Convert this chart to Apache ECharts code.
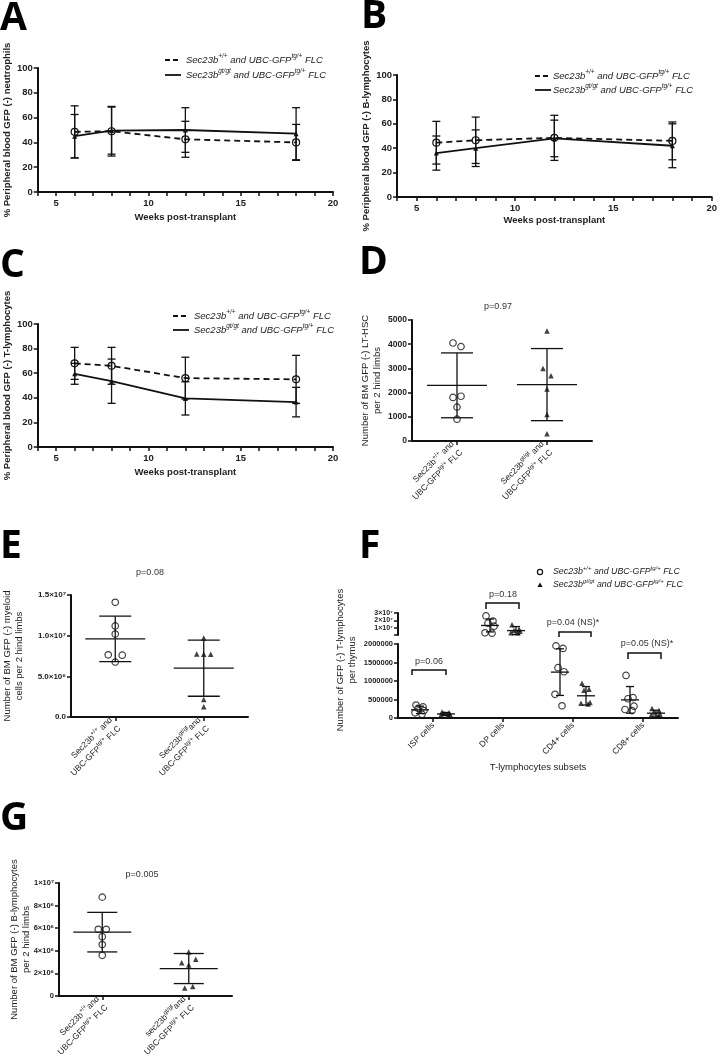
<!DOCTYPE html>
<html><head><meta charset="utf-8">
<script src="https://cdn.jsdelivr.net/npm/echarts@6/dist/echarts.min.js"></script>
<style>html,body{margin:0;padding:0;background:#fff}#c{width:720px;height:1061px}</style>
</head><body><div id="c"></div>
<script>
// ---------------- DATA ----------------
const weeks = [6, 8, 12, 18];
const weekTickLabels = [5, 10, 15, 20];
// A: neutrophils
const neutWtMean = [48.5, 49, 42.5, 40];
const neutWtSd = [21, 20, 14.5, 14.5];
const neutMutMean = [45, 49.5, 50, 47];
const neutMutSd = [17.5, 19, 18, 21];
// B: B-lymphocytes
const bWtMean = [44.5, 46.5, 48.5, 46];
const bWtSd = [17.5, 19, 18.5, 15.5];
const bMutMean = [36, 40, 48, 42];
const bMutSd = [14, 15, 15, 18];
// C: T-lymphocytes
const tWtMean = [68, 66, 56, 55];
const tWtSd = [13, 15, 17, 19.5];
const tMutMean = [59.5, 53.5, 39.5, 36.5];
const tMutSd = [8.5, 18, 13.5, 12];

const groupCats = ['Sec23b+/+ and UBC-GFPtg/+ FLC', 'Sec23bgt/gt and UBC-GFPtg/+ FLC'];
// D: LT-HSC
const lthscWt = [4050, 3900, 1850, 1800, 1400, 900];
const lthscMut = [4550, 3000, 2700, 2150, 1100, 300];
const lthscMean = [2300, 2330];
const lthscSd = [1340, 1490];
// E: myeloid
const myeWt = [14.1e6, 11.2e6, 10.2e6, 7.65e6, 7.6e6, 6.75e6];
const myeMut = [9.7e6, 7.75e6, 7.7e6, 7.7e6, 2.15e6, 1.25e6];
const myeMean = [9.6e6, 6.0e6];
const myeSd = [2.8e6, 3.45e6];
// G: BM B-lymphocytes
const bcellWt = [8.75e6, 5.9e6, 5.9e6, 5.25e6, 4.55e6, 3.6e6];
const bcellMut = [3.9e6, 2.95e6, 3.25e6, 2.75e6, 0.7e6, 0.85e6];
const bcellMean = [5.65e6, 2.43e6];
const bcellSd = [1.75e6, 1.33e6];
// F: thymus T-lymphocyte subsets
const tSubsets = ['ISP cells', 'DP cells', 'CD4+ cells', 'CD8+ cells'];
const ispWt = [0.35e6, 0.3e6, 0.26e6, 0.2e6, 0.14e6, 0.1e6];
const ispMut = [0.16e6, 0.14e6, 0.12e6, 0.1e6, 0.08e6, 0.07e6];
const dpWt = [2.6e7, 1.9e7, 1.6e7, 1.2e7, 0.3e7, 0.25e7];
const dpMut = [1.4e7, 0.8e7, 0.6e7, 0.5e7, 0.3e7, 0.3e7];
const cd4Wt = [1.95e6, 1.88e6, 1.36e6, 1.25e6, 0.64e6, 0.33e6];
const cd4Mut = [0.94e6, 0.78e6, 0.75e6, 0.42e6, 0.4e6, 0.38e6];
const cd8Wt = [1.15e6, 0.55e6, 0.52e6, 0.32e6, 0.23e6, 0.2e6];
const cd8Mut = [0.26e6, 0.2e6, 0.16e6, 0.1e6, 0.07e6, 0.05e6];
const subsetWtMean = [0.22e6, 1.3e7, 1.24e6, 0.49e6];
const subsetWtSd = [0.1e6, 0.88e7, 0.63e6, 0.36e6];
const subsetMutMean = [0.11e6, 0.6e7, 0.6e6, 0.13e6];
const subsetMutSd = [0.04e6, 0.55e7, 0.25e6, 0.08e6];
const subsetP = ['p=0.06', 'p=0.18', 'p=0.04 (NS)*', 'p=0.05 (NS)*'];
const panelP = {D: 'p=0.97', E: 'p=0.08', G: 'p=0.005'};

// ---------------- LAYOUT / STYLE ----------------
const FONT = 'Liberation Sans';
const INK = '#111';
const lthscWtJit = [-4, 4, 4, -4, 0, 0], lthscMutJit = [0, -4, 4, 0, 0, 0];
const myeWtJit = [0, 0, 0, -7, 7, 0], myeMutJit = [0, -7, 0, 7, 0, 0];
const bcellWtJit = [0, -4, 4, 0, 0, 0], bcellMutJit = [0, -7, 7, 0, -4, 4];
const fJit = [-4, 3, -2, 4, -5, 2];
const fWtOff = -13, fMutOff = 13;

const richN = {fontFamily: FONT, fontSize: 8.5, color: '#222', lineHeight: 12};
const richS = {fontFamily: FONT, fontSize: 6, color: '#222', lineHeight: 5, verticalAlign: 'top'};
const catLabelsD = ['{n|Sec23b}{s|+/+}{n| and}\n{n|UBC-GFP}{s|tg/+}{n| FLC}', '{n|Sec23b}{s|gt/gt}{n| and}\n{n|UBC-GFP}{s|tg/+}{n| FLC}'];
const catLabelsE = ['{n|Sec23b}{s|+/+}{n| and}\n{n|UBC-GFP}{s|tg/+}{n| FLC}', '{n|Sec23b}{s|gt/gt}{n|and}\n{n|UBC-GFP}{s|tg/+}{n| FLC}'];
const catLabelsG = ['{n|Sec23b}{s|+/+}{n|and}\n{n|UBC-GFP}{s|tg/+}{n| FLC}', '{n|sec23b}{s|gt/gt}{n|and}\n{n|UBC-GFP}{s|tg/+}{n| FLC}'];

const lineSt = {color: INK, width: 2};
function yAxisV(gi, min, max, interval, fs, fmt, extra) {
  return Object.assign({
    type: 'value', gridIndex: gi, min, max, interval,
    axisLine: {show: true, lineStyle: lineSt},
    axisTick: {show: true, length: 4, lineStyle: {color: INK, width: 1.5}},
    axisLabel: {fontFamily: FONT, fontWeight: 'bold', fontSize: fs, color: '#222', margin: 5, formatter: fmt,
      showMinLabel: true, showMaxLabel: true, hideOverlap: false},
    splitLine: {show: false}
  }, extra || {});
}
function yName(name, gap, bold, noMove) {
  const o = {name, nameLocation: 'middle', nameGap: gap,
    nameTextStyle: {fontFamily: FONT, fontWeight: bold ? 'bold' : 'normal', fontSize: 9.5, color: '#222', lineHeight: 12}};
  if (noMove) o.nameMoveOverlap = false;
  return o;
}
function weekAxis(gi, gap) {
  return {type: 'value', gridIndex: gi, min: 4, max: 20, interval: 1,
    axisLine: {show: true, lineStyle: lineSt},
    axisTick: {show: true, length: 4, lineStyle: {color: INK, width: 1.5}},
    axisLabel: {fontFamily: FONT, fontWeight: 'bold', fontSize: 9.5, color: '#222', margin: 6,
      formatter: v => weekTickLabels.indexOf(v) >= 0 ? String(v) : ''},
    splitLine: {show: false},
    name: 'Weeks post-transplant', nameLocation: 'middle', nameGap: gap,
    nameTextStyle: {fontFamily: FONT, fontWeight: 'bold', fontSize: 9.5, color: '#222'}};
}
function catAxis(gi, labels) {
  return {type: 'category', gridIndex: gi, data: groupCats,
    axisLine: {show: true, lineStyle: lineSt},
    axisTick: {show: true, alignWithLabel: true, length: 4, lineStyle: {color: INK, width: 1.5}},
    axisLabel: {rotate: 45, margin: 6, interval: 0,
      formatter: (v, i) => labels[i], rich: {n: richN, s: richS}}};
}

// error bar renderer (optional mean line)
function statRender(meanHalf, capHalf, dx) {
  return function (params, api) {
    const x = api.value(0), m = api.value(1), s = api.value(2);
    const c = api.coord([x, m]), t = api.coord([x, m + s]), b = api.coord([x, m - s]);
    const cx = c[0] + dx;
    const st = {stroke: INK, lineWidth: 1.3, fill: null};
    const ch = [
      {type: 'line', shape: {x1: cx, y1: t[1], x2: cx, y2: b[1]}, style: st},
      {type: 'line', shape: {x1: cx - capHalf, y1: t[1], x2: cx + capHalf, y2: t[1]}, style: st},
      {type: 'line', shape: {x1: cx - capHalf, y1: b[1], x2: cx + capHalf, y2: b[1]}, style: st}
    ];
    if (meanHalf > 0) ch.push({type: 'line', shape: {x1: cx - meanHalf, y1: c[1], x2: cx + meanHalf, y2: c[1]}, style: st});
    return {type: 'group', children: ch};
  };
}
function errSeries(gi, means, sds, xs) {
  return {type: 'custom', xAxisIndex: gi, yAxisIndex: gi, renderItem: statRender(0, 4, 0),
    data: xs.map((x, i) => [x, means[i], sds[i]]), z: 2, silent: true, clip: false};
}
function lineSeries(gi, means, wt) {
  return {type: 'line', xAxisIndex: gi, yAxisIndex: gi, data: weeks.map((w, i) => [w, means[i]]),
    symbol: wt ? 'circle' : 'triangle', symbolSize: wt ? 7 : 5,
    itemStyle: wt ? {color: 'rgba(255,255,255,0)', borderColor: INK, borderWidth: 1.2} : {color: INK},
    lineStyle: {color: INK, width: 1.8, type: wt ? [6, 4] : 'solid'}, z: 3, silent: true, animation: false};
}
const hollow = {color: 'rgba(255,255,255,0)', borderColor: INK, borderWidth: 1.2};
function dots(gi, cat, vals, jit, wt, base) {
  return {type: 'scatter', xAxisIndex: gi, yAxisIndex: gi, z: 3, silent: true,
    symbol: wt ? 'circle' : 'triangle', symbolSize: wt ? 6.5 : 5.5,
    itemStyle: wt ? hollow : {color: INK},
    data: vals.map((v, i) => ({value: [cat, v], symbolOffset: [(base || 0) + jit[i], 0]}))};
}
function groupStats(gi, means, sds, meanHalf, capHalf, dx, idx) {
  const list = idx || means.map((m, i) => i);
  return {type: 'custom', xAxisIndex: gi, yAxisIndex: gi, renderItem: statRender(meanHalf, capHalf, dx),
    data: list.map(i => [i, means[i], sds[i]]), z: 2, silent: true, clip: false};
}

const grids = [
  {left: 30, top: 68, width: 303, height: 124},   // A
  {left: 397, top: 75, width: 317, height: 122},  // B
  {left: 31, top: 324, width: 302, height: 123},  // C
  {left: 412, top: 320, width: 180, height: 121}, // D
  {left: 67, top: 595, width: 181, height: 122},  // E
  {left: 398, top: 644, width: 280, height: 74},  // F bottom
  {left: 398, top: 613, width: 280, height: 22},  // F top (broken axis)
  {left: 59, top: 883, width: 173, height: 113}   // G
];

const xAxes = [
  weekAxis(0, 20), weekAxis(1, 18), weekAxis(2, 20),
  catAxis(3, catLabelsD), catAxis(4, catLabelsE),
  {type: 'category', gridIndex: 5, data: tSubsets,
    axisLine: {show: true, lineStyle: lineSt},
    axisTick: {show: true, alignWithLabel: true, length: 4, lineStyle: {color: INK, width: 1.5}},
    axisLabel: {rotate: 45, margin: 6, interval: 0, fontFamily: FONT, fontSize: 8.5, color: '#222'},
    name: 'T-lymphocytes subsets', nameLocation: 'middle', nameGap: 44,
    nameTextStyle: {fontFamily: FONT, fontSize: 9.5, color: '#222'}},
  {type: 'category', gridIndex: 6, data: tSubsets, show: false},
  catAxis(7, catLabelsG)
];

const sup7 = '\u2077', sup6 = '\u2076';
const yAxes = [
  Object.assign(yAxisV(0, 0, 100, 20, 9.5, v => String(v)), yName('% Peripheral blood GFP (-) neutrophils', 19, true)),
  Object.assign(yAxisV(1, 0, 100, 20, 9.5, v => String(v)), yName('% Peripheral blood GFP (-) B-lymphocytes', 25, true)),
  Object.assign(yAxisV(2, 0, 100, 20, 9.5, v => String(v)), yName('% Peripheral blood GFP (-) T-lymphocytes', 19, true)),
  Object.assign(yAxisV(3, 0, 5000, 1000, 8.5, v => String(v)), yName('Number of BM GFP (-) LT-HSC\nper 2 hind limbs', 29, false)),
  Object.assign(yAxisV(4, 0, 1.5e7, 5e6, 8, v => v === 0 ? '0.0' : (v / (v >= 1e7 ? 1e7 : 1e6)).toFixed(1) + '\u00d710' + (v >= 1e7 ? sup7 : sup6)),
    yName('Number of BM GFP (-) myeloid\ncells per 2 hind limbs', 46, false)),
  yAxisV(5, 0, 2e6, 5e5, 7.5, v => String(v)),
  yAxisV(6, 0, 3e7, 1e7, 7, v => v === 0 ? '' : (v / 1e7) + '\u00d710' + sup7),
  Object.assign(yAxisV(7, 0, 1e7, 2e6, 7.5, v => v === 0 ? '0' : (v >= 1e7 ? '1\u00d710' + sup7 : (v / 1e6) + '\u00d710' + sup6)),
    yName('Number of BM GFP (-) B-lymphocytes\nper 2 hind limbs', 27, false, true))
];
yAxes[6].axisLabel.lineHeight = 7;

const series = [
  errSeries(0, neutWtMean, neutWtSd, weeks), errSeries(0, neutMutMean, neutMutSd, weeks),
  lineSeries(0, neutWtMean, true), lineSeries(0, neutMutMean, false),
  errSeries(1, bWtMean, bWtSd, weeks), errSeries(1, bMutMean, bMutSd, weeks),
  lineSeries(1, bWtMean, true), lineSeries(1, bMutMean, false),
  errSeries(2, tWtMean, tWtSd, weeks), errSeries(2, tMutMean, tMutSd, weeks),
  lineSeries(2, tWtMean, true), lineSeries(2, tMutMean, false),
  // D
  groupStats(3, lthscMean, lthscSd, 30, 16, 0),
  dots(3, 0, lthscWt, lthscWtJit, true), dots(3, 1, lthscMut, lthscMutJit, false),
  // E
  groupStats(4, myeMean, myeSd, 30, 16, 0),
  dots(4, 0, myeWt, myeWtJit, true), dots(4, 1, myeMut, myeMutJit, false),
  // G
  groupStats(7, bcellMean, bcellSd, 29, 15, 0),
  dots(7, 0, bcellWt, bcellWtJit, true), dots(7, 1, bcellMut, bcellMutJit, false),
  // F bottom (ISP, CD4, CD8) and top (DP)
  groupStats(5, subsetWtMean, subsetWtSd, 9, 4, fWtOff, [0, 2, 3]),
  groupStats(5, subsetMutMean, subsetMutSd, 9, 4, fMutOff, [0, 2, 3]),
  groupStats(6, subsetWtMean, subsetWtSd, 9, 4, fWtOff, [1]),
  groupStats(6, subsetMutMean, subsetMutSd, 9, 4, fMutOff, [1]),
  dots(5, 0, ispWt, fJit, true, fWtOff), dots(5, 0, ispMut, fJit, false, fMutOff),
  dots(6, 1, dpWt, fJit, true, fWtOff), dots(6, 1, dpMut, fJit, false, fMutOff),
  dots(5, 2, cd4Wt, fJit, true, fWtOff), dots(5, 2, cd4Mut, fJit, false, fMutOff),
  dots(5, 3, cd8Wt, fJit, true, fWtOff), dots(5, 3, cd8Mut, fJit, false, fMutOff)
];

// ---------------- annotations ----------------
const legWt = '{n|Sec23b}{s|+/+}{n| and UBC-GFP}{s|tg/+}{n| FLC}';
const legMut = '{n|Sec23b}{s|gt/gt}{n| and UBC-GFP}{s|tg/+}{n| FLC}';
function legRich(fs) {
  return {n: {fontFamily: FONT, fontStyle: 'italic', fontSize: fs, fill: '#222', color: '#222', lineHeight: 14},
          s: {fontFamily: FONT, fontStyle: 'italic', fontSize: fs * 0.68, fill: '#222', color: '#222', lineHeight: 6, verticalAlign: 'top'}};
}
function legText(x, y, txt, fs) {
  return {type: 'text', x, y, style: {text: txt, rich: legRich(fs), align: 'left', verticalAlign: 'middle'}};
}
function lineLegend(x, y1, y2, tx) {
  return [
    {type: 'line', shape: {x1: x, y1: y1, x2: x + 16, y2: y1}, style: {stroke: INK, lineWidth: 1.8, lineDash: [5, 3]}},
    {type: 'line', shape: {x1: x, y1: y2, x2: x + 16, y2: y2}, style: {stroke: INK, lineWidth: 1.8}},
    legText(tx, y1, legWt, 9.5), legText(tx, y2, legMut, 9.5)
  ];
}
function pText(x, y, t) {
  return {type: 'text', x, y, style: {text: t, fontFamily: FONT, fontSize: 9, fill: '#333', align: 'center', verticalAlign: 'middle'}};
}
function bracket(x1, x2, y, legY, tx, ty, t) {
  return [
    {type: 'polyline', shape: {points: [[x1, legY], [x1, y], [x2, y], [x2, legY]]}, style: {stroke: INK, lineWidth: 1.5, fill: null}},
    pText(tx, ty, t)
  ];
}
const graphic = [].concat(
  lineLegend(165, 60, 75, 186),
  lineLegend(535, 76, 90, 553),
  lineLegend(173, 316, 330, 194),
  [pText(498, 307, panelP.D), pText(150, 573, panelP.E), pText(142, 875, panelP.G)],
  [
    {type: 'circle', shape: {cx: 540, cy: 572, r: 2.6}, style: {stroke: INK, lineWidth: 1.2, fill: null}},
    {type: 'polygon', shape: {points: [[540, 582.5], [542.6, 587], [537.4, 587]]}, style: {fill: INK}},
    legText(553, 572, legWt, 8.8), legText(553, 585, legMut, 8.8)
  ],
  bracket(412, 446, 670, 675, 429, 662, subsetP[0]),
  bracket(486, 519, 603, 609, 503, 595, subsetP[1]),
  bracket(559, 591, 632, 637, 573, 623, subsetP[2]),
  bracket(628, 661, 653, 659, 647, 644, subsetP[3]),
  [{type: 'text', x: 346, y: 660, rotation: Math.PI / 2,
    style: {text: 'Number of GFP (-) T-lymphocytes\nper thymus', fontFamily: FONT, fontSize: 9.5, fill: '#222', align: 'center', verticalAlign: 'middle', lineHeight: 12}}]
);

function panelTitle(t, left, top) {
  return {text: t, left, top, padding: 0, textStyle: {fontFamily: 'Open Sans', fontWeight: 'bold', fontSize: 39, color: '#000'}};
}
const titles = [panelTitle('A', 0, -1), panelTitle('B', 361, -3), panelTitle('C', 0, 246), panelTitle('D', 359, 243),
  panelTitle('E', 0, 527), panelTitle('F', 359, 527), panelTitle('G', 0, 799)];

const chart = echarts.init(document.getElementById('c'), null, {renderer: 'canvas'});
chart.setOption({
  animation: false,
  backgroundColor: '#fff',
  title: titles,
  grid: grids,
  xAxis: xAxes,
  yAxis: yAxes,
  series,
  graphic
});
</script></body></html>
